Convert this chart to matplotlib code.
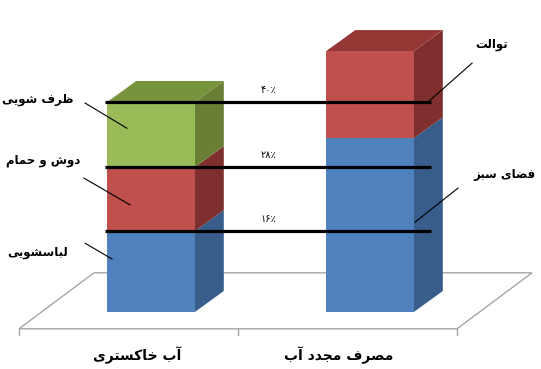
import matplotlib
matplotlib.use("Agg")
import matplotlib.pyplot as plt
from matplotlib.patches import Polygon
import numpy as np

# ---------------- data ----------------
categories = ["آب خاکستری", "مصرف مجدد آب"]
grey_water_names = ["لباسشویی", "دوش و حمام", "ظرف شویی"]
grey_water = [15.4, 12.2, 12.4]
reuse_names = ["فضای سبز", "توالت"]
reuse = [33.1, 16.6]
level_labels = ["۱۶٪", "۲۸٪", "۴۰٪"]

# ---------------- minimal Persian shaping ----------------
FORMS = {
    '\u0622': ('\uFE81', '\uFE82', None, None),
    '\u0627': ('\uFE8D', '\uFE8E', None, None),
    '\u0628': ('\uFE8F', '\uFE90', '\uFE91', '\uFE92'),
    '\u062A': ('\uFE95', '\uFE96', '\uFE97', '\uFE98'),
    '\u062C': ('\uFE9D', '\uFE9E', '\uFE9F', '\uFEA0'),
    '\u062D': ('\uFEA1', '\uFEA2', '\uFEA3', '\uFEA4'),
    '\u062E': ('\uFEA5', '\uFEA6', '\uFEA7', '\uFEA8'),
    '\u062F': ('\uFEA9', '\uFEAA', None, None),
    '\u0631': ('\uFEAD', '\uFEAE', None, None),
    '\u0632': ('\uFEAF', '\uFEB0', None, None),
    '\u0633': ('\uFEB1', '\uFEB2', '\uFEB3', '\uFEB4'),
    '\u0634': ('\uFEB5', '\uFEB6', '\uFEB7', '\uFEB8'),
    '\u0635': ('\uFEB9', '\uFEBA', '\uFEBB', '\uFEBC'),
    '\u0636': ('\uFEBD', '\uFEBE', '\uFEBF', '\uFEC0'),
    '\u0638': ('\uFEC5', '\uFEC6', '\uFEC7', '\uFEC8'),
    '\u0641': ('\uFED1', '\uFED2', '\uFED3', '\uFED4'),
    '\u0644': ('\uFEDD', '\uFEDE', '\uFEDF', '\uFEE0'),
    '\u0645': ('\uFEE1', '\uFEE2', '\uFEE3', '\uFEE4'),
    '\u0648': ('\uFEED', '\uFEEE', None, None),
    '\u06A9': ('\uFB8E', '\uFB8F', '\uFB90', '\uFB91'),
    '\u06CC': ('\uFBFC', '\uFBFD', '\uFBFE', '\uFBFF'),
}


def fa(text):
    out = []
    n = len(text)
    for i, c in enumerate(text):
        if c not in FORMS:
            out.append(c)
            continue
        f = FORMS[c]
        prev = text[i - 1] if i > 0 else ''
        nxt = text[i + 1] if i < n - 1 else ''
        jp = prev in FORMS and FORMS[prev][2] is not None
        jn = f[2] is not None and nxt in FORMS
        if jp and jn:
            out.append(f[3])
        elif jp:
            out.append(f[1])
        elif jn:
            out.append(f[2])
        else:
            out.append(f[0])
    return ''.join(reversed(out))


plt.rcParams['font.family'] = ['DejaVu Sans']

# ---------------- figure ----------------
W, H = 541, 369
fig = plt.figure(figsize=(W / 100, H / 100), dpi=100)
ax = fig.add_axes([0, 0, 1, 1])
ax.set_xlim(-0.6895, 1.7808)
ax.set_ylim(-10.857, 59.43)
ax.axis('off')

px_x = W / (1.7808 + 0.6895)       # pixels per x unit
px_y = H / (59.43 + 10.857)        # pixels per y unit

# depth offsets (pixels -> data)
bdx, bdy = 29 / px_x, 21 / px_y    # bar depth
fdx, fdy = 75 / px_x, 56 / px_y    # floor depth
t_bar = 0.3                         # bar front position within floor depth

x_pos = np.arange(len(categories))
bar_w = 0.40

# ---------------- floor ----------------
fx0 = -0.5 - t_bar * fdx
fx1 = len(categories) - 0.5 - t_bar * fdx
fy = 0 - t_bar * fdy
floor = Polygon([(fx0, fy), (fx1, fy), (fx1 + fdx, fy + fdy), (fx0 + fdx, fy + fdy)],
                closed=True, facecolor='white', edgecolor='#A6A6A6', lw=1.0, zorder=1)
ax.add_patch(floor)
tick_len = 6 / px_y
for k in range(len(categories) + 1):
    xt = fx0 + k * (fx1 - fx0) / len(categories)
    ax.plot([xt, xt], [fy, fy - tick_len], color='#A6A6A6', lw=1.0, zorder=1)

# ---------------- bars ----------------
front_cols = ['#4F81BD', '#C0504D', '#9BBB59']
side_cols = ['#385D8A', '#7F302E', '#687F35']
top_cols = ['#41689A', '#953735', '#77933C']

stacks = [grey_water, reuse]
for xi, vals in zip(x_pos, stacks):
    bottoms = np.concatenate([[0], np.cumsum(vals)[:-1]])
    left = xi - bar_w / 2
    right = xi + bar_w / 2
    for j, (v, b) in enumerate(zip(vals, bottoms)):
        top = b + v
        side = Polygon([(right, b), (right + bdx, b + bdy), (right + bdx, top + bdy), (right, top)],
                       closed=True, facecolor=side_cols[j], edgecolor='none', zorder=2)
        ax.add_patch(side)
        if j == len(vals) - 1:
            topf = Polygon([(left, top), (right, top), (right + bdx, top + bdy), (left + bdx, top + bdy)],
                           closed=True, facecolor=top_cols[j], edgecolor='none', zorder=2)
            ax.add_patch(topf)
    ax.bar([xi] * len(vals), vals, bottom=bottoms, width=bar_w,
           color=front_cols[:len(vals)], edgecolor='none', zorder=3)

# ---------------- level lines ----------------
levels = np.cumsum(grey_water)
x_line0 = x_pos[0] - bar_w / 2 - 0.01
x_line1 = x_pos[1] + bar_w / 2 + 0.6 * bdx
ax.hlines(levels, x_line0, x_line1, colors='black', lw=2.3, zorder=5)
for lv, lab in zip(levels, level_labels):
    ax.text(0.535, lv + 12 / px_y, lab, ha='center', va='center', fontsize=7, zorder=6)

# ---------------- segment labels with leader lines ----------------
lab_style = dict(ha='center', va='center', fontsize=8.5, fontweight='bold', zorder=6)
left_text = [(-0.516, 11.4), (-0.493, 28.95), (-0.516, 40.4)]
left_lead = [((-0.301, 13.1), (-0.178, 10.1)),
             ((-0.306, 25.5), (-0.096, 20.4)),
             ((-0.301, 39.8), (-0.110, 35.0))]
for name, tp, (p0, p1) in zip(grey_water_names, left_text, left_lead):
    ax.text(tp[0], tp[1], fa(name), **lab_style)
    ax.plot([p0[0], p1[0]], [p0[1], p1[1]], color='black', lw=0.8, zorder=6)

right_text = [(1.612, 26.1), (1.557, 50.9)]
right_lead = [((1.402, 23.6), (1.205, 17.1)),
              ((1.466, 47.4), (1.265, 40.0))]
for name, tp, (p0, p1) in zip(reuse_names, right_text, right_lead):
    ax.text(tp[0], tp[1], fa(name), **lab_style)
    ax.plot([p0[0], p1[0]], [p0[1], p1[1]], color='black', lw=0.8, zorder=6)

# ---------------- category labels ----------------
cat_x = [-0.064, 0.858]
for cx, name in zip(cat_x, categories):
    ax.text(cx, -8.19, fa(name), ha='center', va='center', fontsize=10,
            fontweight='bold', zorder=6)

fig.savefig('out.png', dpi=100)
